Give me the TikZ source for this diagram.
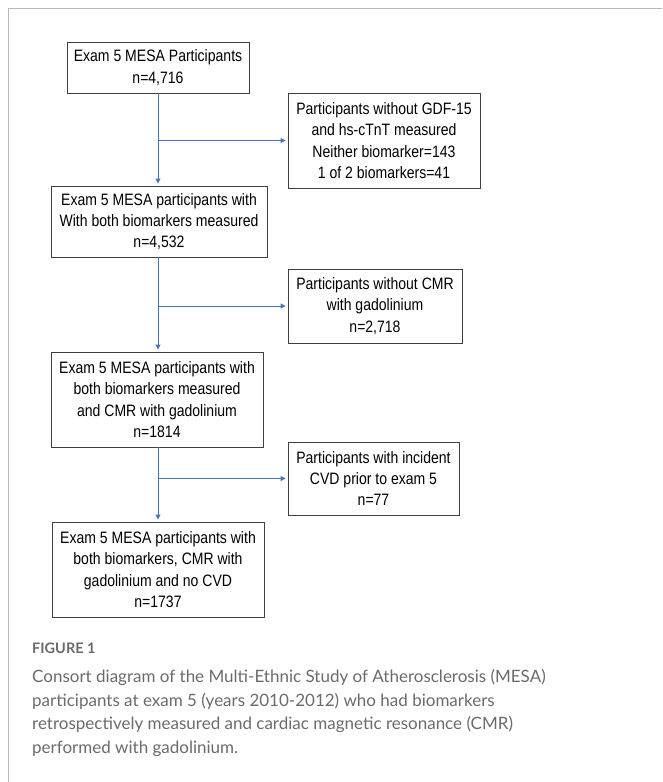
\documentclass[tikz,border=0pt]{standalone}
\usepackage{fontspec}
\usetikzlibrary{arrows.meta}

\newfontfamily\boxfont[FakeStretch=0.85]{Liberation Sans}
\newfontfamily\capfont{Lato}

\definecolor{flowblue}{HTML}{4472C4}
\definecolor{boxgray}{HTML}{404040}
\definecolor{capgray}{HTML}{6B6B6B}

\begin{document}
\begin{tikzpicture}[x=1pt,y=-1pt,
    flowbox/.style={draw=boxgray, line width=0.9pt, align=center, inner sep=0pt,
        font=\boxfont\fontsize{16.5}{21.3}\selectfont},
    flowarrow/.style={draw=flowblue, line width=0.9pt,
        -{Triangle[length=5pt,width=5pt]}, shorten >=2pt}]

        \useasboundingbox (0,0) rectangle (662,782);

        % Frame
        \draw[gray!55, line width=1pt] (8,782) -- (8,8) -- (662,8);

        % Main boxes
        \node[flowbox, minimum width=182, minimum height=51] (start) at (158,67.5)
            {Exam 5 MESA Participants\\n=4,716};
        \node[flowbox, minimum width=216, minimum height=71] (both) at (159,221.5)
            {Exam 5 MESA participants with\\With both biomarkers measured\\n=4,532};
        \node[flowbox, minimum width=212, minimum height=95] (cmr) at (157,399.5)
            {Exam 5 MESA participants with\\both biomarkers measured\\and CMR with gadolinium\\n=1814};
        \node[flowbox, minimum width=212, minimum height=95] (final) at (158,569.5)
            {Exam 5 MESA participants with\\both biomarkers, CMR with\\gadolinium and no CVD\\n=1737};

        % Exclusion boxes
        \node[flowbox, minimum width=192, minimum height=95] (nobio) at (384,140.5)
            {Participants without GDF-15\\and hs-cTnT measured\\Neither biomarker=143\\1 of 2 biomarkers=41};
        \node[flowbox, minimum width=174, minimum height=74] (nocmr) at (375,306)
            {Participants without CMR\\with gadolinium\\n=2,718};
        \node[flowbox, minimum width=171, minimum height=73] (cvd) at (373.5,478.5)
            {Participants with incident\\CVD prior to exam 5\\n=77};

        % Arrows
        \draw[flowarrow] (start.south) -- (start.south |- both.north);
        \draw[flowarrow] (start.south |- nobio.west) -- (nobio.west);
        \draw[flowarrow] (start.south |- both.south) -- (start.south |- cmr.north);
        \draw[flowarrow] (start.south |- nocmr.west) -- (nocmr.west);
        \draw[flowarrow] (start.south |- cmr.south) -- (start.south |- final.north);
        \draw[flowarrow] (start.south |- cvd.west) -- (cvd.west);

        % Caption
        \node[anchor=west, text=capgray, inner sep=0pt,
            font=\capfont\bfseries\fontsize{14.5}{17}\selectfont] (figlabel) at (32,648) {FIGURE 1};
        \node[anchor=north west, text=capgray, align=left, inner sep=0pt,
            font=\capfont\fontsize{17}{23.8}\selectfont] (caption) at (32,669)
            {Consort diagram of the Multi-Ethnic Study of Atherosclerosis (MESA)\\
             participants at exam 5 (years 2010-2012) who had biomarkers\\
             retrospectively measured and cardiac magnetic resonance (CMR)\\
             performed with gadolinium.};

\end{tikzpicture}
\end{document}
